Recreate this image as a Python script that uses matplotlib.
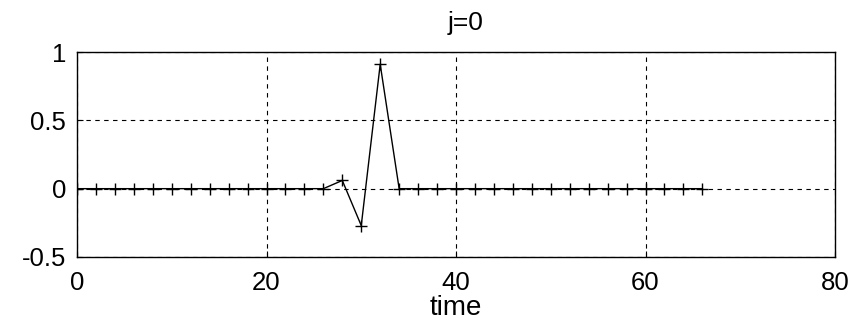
import numpy as np
import matplotlib.pyplot as plt

plt.rcParams["font.family"] = ["Liberation Sans", "DejaVu Sans"]

# data
time = list(range(0, 68, 2))
values = [0.0] * len(time)
spikes = {28: 0.06, 30: -0.27, 32: 0.91}
for t, v in spikes.items():
    values[time.index(t)] = v

xticks = [0, 20, 40, 60, 80]
yticks = [-0.5, 0, 0.5, 1]
yticklabels = ["-0.5", "0", "0.5", "1"]

fig = plt.figure(figsize=(8.54, 3.24), dpi=100)
ax = fig.add_axes([77 / 854, 1 - 257 / 324, (835 - 77) / 854, (257 - 52) / 324])

ax.plot(time, values, color="black", linewidth=1.0, marker="+",
        markersize=9, markeredgewidth=1.0)

ax.set_xlim(0, 80)
ax.set_ylim(-0.5, 1)
ax.set_xticks(xticks)
ax.set_yticks(yticks)
ax.set_yticklabels(yticklabels)
ax.grid(True, color="black", linewidth=0.8, linestyle=(0, (4, 4)))
ax.tick_params(direction="in", length=4, labelsize=18.5, colors="black")
ax.tick_params(axis="x", pad=10)
ax.tick_params(axis="y", pad=8)
for s in ax.spines.values():
    s.set_linewidth(1.0)

ax.set_title("j=0", fontsize=19, pad=16, x=0.513)
ax.set_xlabel("time", fontsize=20, labelpad=0)

fig.savefig("out.png", dpi=100, facecolor="white")
